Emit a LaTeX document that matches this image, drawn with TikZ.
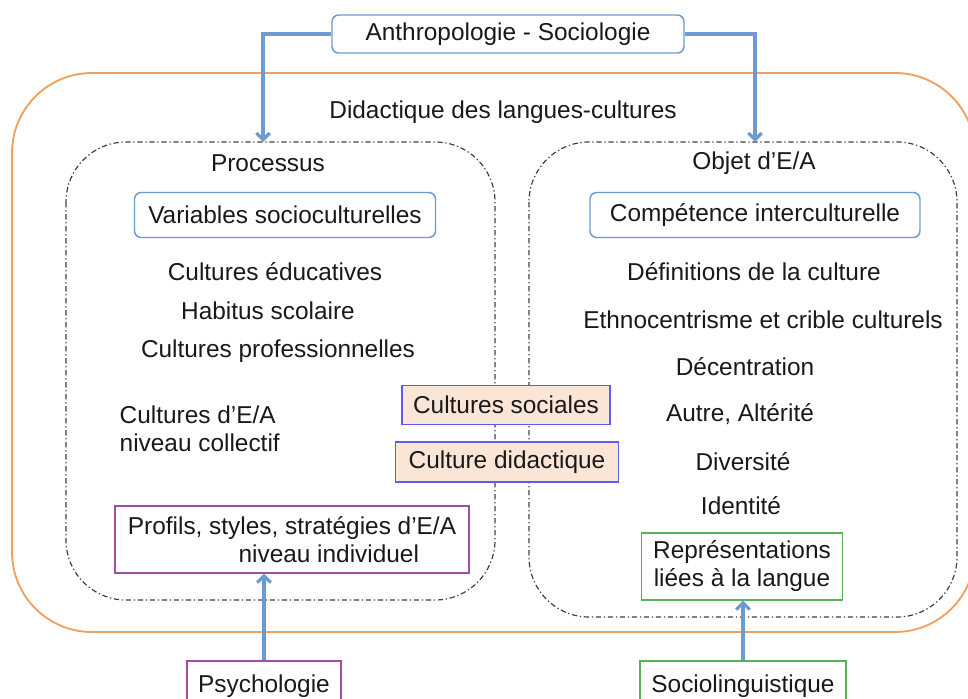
\documentclass[tikz,border=0pt]{standalone}
\usepackage{fontspec}
\setmainfont{Liberation Sans}
\usetikzlibrary{arrows.meta}
\definecolor{linkblue}{HTML}{6C9BD2}
\definecolor{frameorange}{HTML}{F0A060}
\definecolor{psypurple}{HTML}{A14FA6}
\definecolor{lingreen}{HTML}{55B257}
\definecolor{peach}{HTML}{FBE5D6}
\definecolor{peachline}{HTML}{5C5CF2}
\begin{document}
\begin{tikzpicture}[x=0.75pt,y=-0.75pt,font=\fontsize{18.3}{21}\selectfont,
  box/.style={draw, inner sep=0pt, text=black!90},
  bluebox/.style={box, draw=linkblue, line width=1.1pt, rounded corners=5pt},
  cultbox/.style={box, draw=peachline, line width=1pt, fill=peach},
  psybox/.style={box, draw=psypurple, line width=1pt},
  lingbox/.style={box, draw=lingreen, line width=1pt},
  zone/.style={draw=black!75, line width=0.9pt, rounded corners=45pt,
    dash pattern=on 4pt off 2pt on 1pt off 2pt},
  label/.style={text=black!90},
  arr/.style={draw=linkblue, line width=2.4pt, -{Straight Barb[length=5pt,width=10pt]}}]
  \useasboundingbox (0,0) rectangle (968,699);
  \draw[frameorange, line width=1.4pt, rounded corners=60pt] (12,73) rectangle (975,632);
  \draw[zone] (66,142) rectangle (495,600);
  \draw[zone] (529,142) rectangle (957,617);

  \node[bluebox, minimum width=264pt, minimum height=28.5pt] (anthro) at (508,34) {Anthropologie - Sociologie};
  \node[label] (didact) at (503,112) {Didactique des langues-cultures};
  \node[label] (proc) at (268,163) {Processus};
  \node[label] (obj) at (754,163) {Objet d’E/A};
  \coordinate (procin) at (263,142);
  \coordinate (objin) at (755,142);

  \node[bluebox, minimum width=225.75pt, minimum height=33.75pt] (varsc) at (285,215) {Variables socioculturelles};
  \node[label] (educ) at (275,272) {Cultures éducatives};
  \node[label] (habitus) at (268,311) {Habitus scolaire};
  \node[label] (prof) at (278,351) {Cultures professionnelles};
  \node[label, anchor=west, align=left] (collect) at (115,429) {Cultures d’E/A\\niveau collectif};
  \node[psybox, minimum width=265.5pt, minimum height=50.25pt, align=left] (profils) at (292,539.5)
    {Profils, styles, stratégies d’E/A\\\hspace*{83pt}niveau individuel};

  \node[cultbox, minimum width=156pt, minimum height=29.25pt] (sociales) at (506,405) {Cultures sociales};
  \node[cultbox, minimum width=167.25pt, minimum height=30pt] (didactique) at (507,462) {Culture didactique};

  \node[bluebox, minimum width=247.5pt, minimum height=33.75pt] (compet) at (755,215) {Compétence interculturelle};
  \node[label] (defin) at (754,272) {Définitions de la culture};
  \node[label] (ethno) at (763,320) {Ethnocentrisme et crible culturels};
  \node[label] (decent) at (745,367) {Décentration};
  \node[label] (autre) at (740,414) {Autre, Altérité};
  \node[label] (divers) at (743,462) {Diversité};
  \node[label] (ident) at (741,506) {Identité};
  \node[lingbox, minimum width=150.75pt, minimum height=50.25pt, align=center] (repres) at (742,566.5)
    {Représentations\\liées à la langue};

  \node[psybox, minimum width=115.5pt, minimum height=37.5pt] (psycho) at (264,686) {Psychologie};
  \node[lingbox, minimum width=154.5pt, minimum height=37.5pt] (socio) at (743,686) {Sociolinguistique};

  \draw[arr] (anthro.west) -| (procin);
  \draw[arr] (anthro.east) -| (objin);
  \draw[arr] (psycho.north) -- (psycho.north |- profils.south);
  \draw[arr] (socio.north) -- (socio.north |- repres.south);
\end{tikzpicture}
\end{document}
